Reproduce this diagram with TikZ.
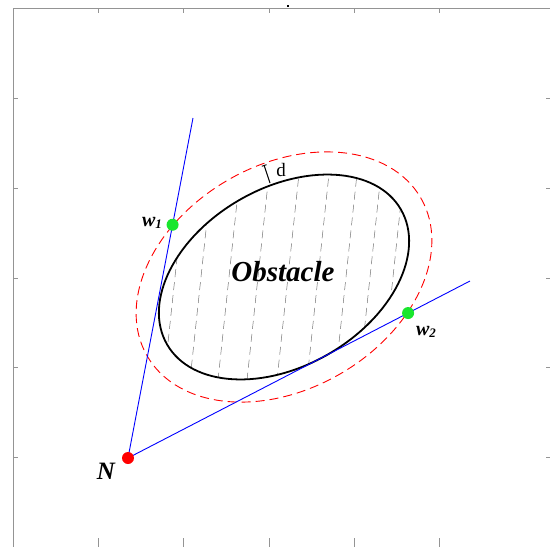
\documentclass[tikz,border=0pt]{standalone}
\usepackage{fontspec}
\setmainfont{Liberation Serif}
\usetikzlibrary{calc,arrows.meta}

\definecolor{dotgreen}{RGB}{25,230,45}

\begin{document}
\begin{tikzpicture}[x=1pt,y=-1pt,
    frame/.style={draw=black!42, line width=0.9pt},
    hatch/.style={draw=black!55, line width=0.5pt, dash pattern=on 8pt off 5pt},
    ray/.style={draw=blue, line width=0.9pt},
    margin/.style={draw=red, line width=0.9pt, dash pattern=on 9pt off 5pt},
    dot/.style={circle, inner sep=0pt, minimum size=12pt},
    lbl/.style={inner sep=0pt, font={\fontsize{20}{20}\selectfont\bfseries\itshape}}]
    \useasboundingbox (0,0) rectangle (550,547);

    % axes box
    \draw[frame] (13,547) -- (13,8) -- (550,8);
    \foreach \tx in {98,183,269,354,439} {
      \draw[frame] (\tx,8) -- (\tx,13);
      \draw[frame] (\tx,538) -- (\tx,547);
    }
    \foreach \ty in {98,188,278,367,457} {
      \draw[frame] (13,\ty) -- (18,\ty);
      \draw[frame] (546,\ty) -- (550,\ty);
    }
    \fill (287,5) rectangle (289,7);

    \coordinate (C) at (284,277);
    \coordinate (N) at (128,458);
    \coordinate (t1) at (193,118);
    \coordinate (t2) at (470,281);
    \coordinate (w1) at ($(N)!0.686!(t1)$);
    \coordinate (w2) at ($(N)!0.819!(t2)$);

    % hatching inside the obstacle
    \begin{scope}
      \clip[rotate around={30:(C)}] (C) ellipse [x radius=135, y radius=89];
      \foreach \hx in {175,201,229,258,288,318,346,370,393}
        \draw[hatch] (\hx+16,127) -- (\hx-16,427);
    \end{scope}

    \draw[line width=1.8pt, rotate around={30:(C)}] (C) ellipse [x radius=135, y radius=89];
    \draw[margin, rotate around={30:(C)}] (C) ellipse [x radius=158, y radius=112];
    \node[font={\fontsize{29}{29}\selectfont\bfseries\itshape}] (obst) at (283,272) {Obstacle};

    % safety distance d
    \coordinate (dtop) at (264,165);
    \coordinate (dbot) at (270,183);
    \draw[line width=1pt, {Bar[width=5pt]}-] (dtop) -- (dbot);
    \node[font={\fontsize{19}{19}\selectfont}] (dlab) at (281,170) {d};

    % tangent lines from N
    \draw[ray] (N) -- (t1);
    \draw[ray] (N) -- (t2);

    \node[dot, fill=red] (Ndot) at (N) {};
    \node[dot, fill=dotgreen] (w1dot) at (w1) {};
    \node[dot, fill=dotgreen] (w2dot) at (w2) {};
    \node[lbl, font={\fontsize{25}{25}\selectfont\bfseries\itshape}] (Nlab) at (106,471) {N};
    \node[lbl] (w1lab) at (152,223) {w\raisebox{-0.25ex}{\fontsize{13}{13}\selectfont 1}};
    \node[lbl] (w2lab) at (426,332) {w\raisebox{-0.25ex}{\fontsize{13}{13}\selectfont 2}};
\end{tikzpicture}
\end{document}
